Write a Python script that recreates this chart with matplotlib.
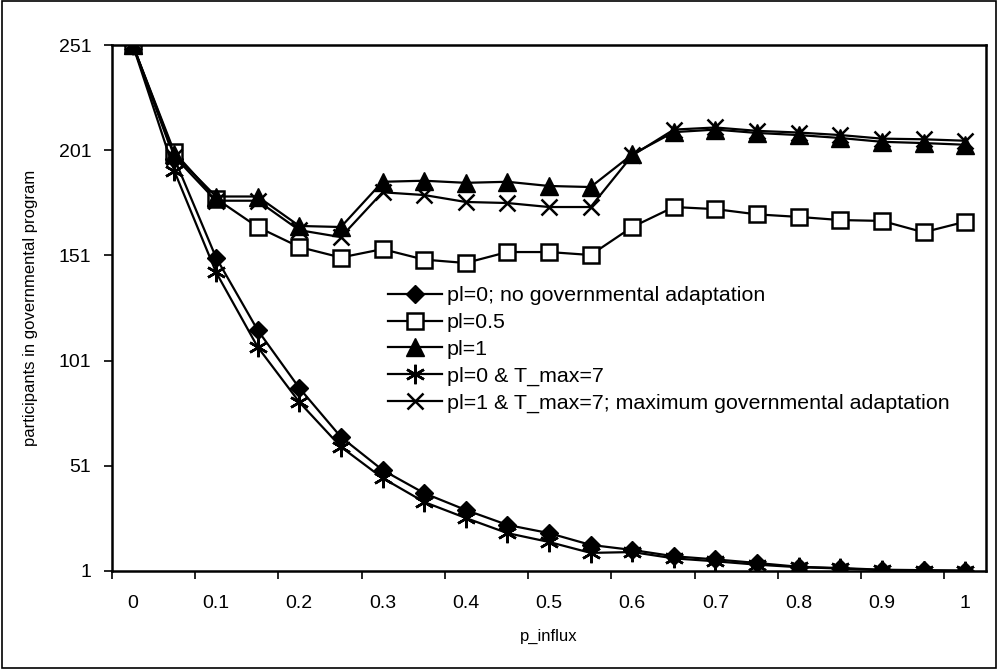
import matplotlib
matplotlib.use('Agg')
import matplotlib.pyplot as plt
from matplotlib.patches import Rectangle

plt.rcParams['font.family'] = ['Liberation Sans', 'DejaVu Sans']

# p_influx categories
x_vals = [0, 0.05, 0.1, 0.15, 0.2, 0.25, 0.3, 0.35, 0.4, 0.45, 0.5,
          0.55, 0.6, 0.65, 0.7, 0.75, 0.8, 0.85, 0.9, 0.95, 1.0]
x_labels = ['0', '0.1', '0.2', '0.3', '0.4', '0.5', '0.6', '0.7', '0.8', '0.9', '1']
x_label_pos = [0, 0.1, 0.2, 0.3, 0.4, 0.5, 0.6, 0.7, 0.8, 0.9, 1.0]
y_ticks = [1, 51, 101, 151, 201, 251]

pl0 = [251, 197, 150, 115.5, 88, 64.7, 49, 38, 30, 22.9, 19,
       13.4, 11, 8, 6.5, 4.8, 3, 2.4, 1.6, 1.4, 1.2]
pl05 = [251, 200, 178, 164.5, 155, 150, 154, 149, 147.4, 152.6, 152.6,
        151.2, 164.5, 174, 173, 170.5, 169.3, 167.8, 167.4, 162, 167]
pl1 = [251, 199, 179, 179, 165, 164.5, 186, 186.5, 185.5, 186, 184,
       183.5, 199, 209.6, 210.8, 209.2, 208.2, 206.8, 205, 204.4, 203.6]
pl0_t7 = [251, 191, 143, 107.5, 81.3, 60, 45.2, 33.8, 26.2, 19, 14.8,
          9.6, 10, 7, 5.6, 4, 2.8, 2.2, 1.4, 1.2, 1.1]
pl1_t7 = [251, 198, 177, 177, 163, 159.7, 181, 179.7, 176.4, 175.9, 174,
          174, 198.5, 210.8, 211.8, 210.2, 209.4, 208.2, 206.5, 206.2, 205.5]

series = [
    (pl0, 'pl=0; no governmental adaptation', dict(marker='D', ms=9, mfc='black')),
    (pl05, 'pl=0.5', dict(marker='s', ms=12, mfc='white', mew=1.8)),
    (pl1, 'pl=1', dict(marker='^', ms=13, mfc='black')),
    (pl0_t7, 'pl=0 & T_max=7', dict(marker=(6, 2, 0), ms=14, mew=1.8)),
    (pl1_t7, 'pl=1 & T_max=7; maximum governmental adaptation', dict(marker='x', ms=11, mew=1.8)),
]

fig = plt.figure(figsize=(9.98, 6.69), dpi=100)
ax = fig.add_axes([0.1122, 0.1465, 0.8758, 0.7862])

for vals, lab, st in series:
    ax.plot(x_vals, vals, color='black', lw=1.6, mec='black', label=lab, **st)

ax.set_xlim(-0.025, 1.025)
ax.set_ylim(1, 251)
ax.set_yticks(y_ticks)
ax.set_yticklabels([str(v) for v in y_ticks])

# tick marks between categories, labels on categories
ax.set_xticks([-0.025 + 0.1 * k for k in range(11)])
ax.set_xticklabels([])
ax.set_xticks(x_label_pos, minor=True)
ax.set_xticklabels(x_labels, minor=True)
ax.tick_params(axis='x', which='minor', length=0, pad=17, labelsize=14)
ax.tick_params(axis='x', which='major', length=6, width=1.2, direction='out')
ax.tick_params(axis='y', length=6, width=1.2, direction='out', pad=9, labelsize=14)

for s in ax.spines.values():
    s.set_linewidth(1.8)

ax.set_xlabel('p_influx', fontsize=12)
ax.xaxis.set_label_coords(0.5, -0.11)
ax.set_ylabel('participants in governmental program', fontsize=12)
ax.yaxis.set_label_coords(-0.085, 0.5)

ax.legend(loc='upper left', bbox_to_anchor=(0.389, 0.572), bbox_transform=fig.transFigure,
          frameon=False, fontsize=15.4, handlelength=2.5, handletextpad=0.25,
          labelspacing=0.36, borderpad=0, borderaxespad=0)

fig.patches.append(Rectangle((0.002, 0.002), 0.996, 0.996, transform=fig.transFigure,
                             fill=False, edgecolor='black', lw=1.2))

fig.savefig('out.png', dpi=100)
